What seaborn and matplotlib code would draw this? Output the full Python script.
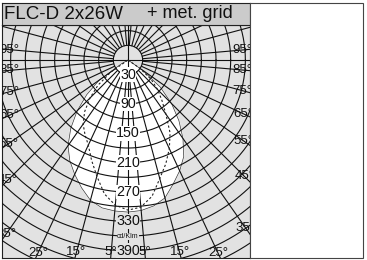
import numpy as np
import pandas as pd
import seaborn as sns
import matplotlib.pyplot as plt
from matplotlib.patches import Rectangle

# intensity in cd/klm, gamma measured from nadir
gamma = [0, 5, 10, 15, 20, 25, 30, 35, 40, 45, 50, 55, 60, 65]
solid_right = [311, 309, 303, 292, 270, 250, 228, 196, 162, 126, 86, 36, 0, 0]
solid_left = [311, 310, 307, 297, 278, 258, 238, 214, 182, 147, 110, 72, 16, 0]
dashed_right = [307, 302, 283, 251, 226, 200, 172, 135, 108, 86, 62, 30, 0, 0]
dashed_left = [307, 298, 278, 246, 218, 192, 176, 160, 138, 110, 80, 42, 0, 0]

ring_labels = [30, 90, 150, 210, 270, 330, 390]
angle_labels = [5, 15, 25, 35, 45, 55, 65, 75, 85, 95]
title_left = 'FLC-D 2x26W'
title_right = '+ met. grid'

W, H = 367, 260
PX = 0.489  # pixels per cd/klm
GRAY = '#e2e2e2'

sns.set_style('white')
plt.rcParams['font.family'] = ['Liberation Sans', 'DejaVu Sans']


def to_xy(g, r, side):
    g = np.radians(np.asarray(g, float))
    r = np.asarray(r, float)
    return side * r * np.sin(g), -r * np.cos(g)


fig = plt.figure(figsize=(W / 100, H / 100), dpi=100)
fig.patch.set_facecolor('white')

ax = fig.add_axes([2 / W, 2 / H, 248 / W, 233 / H])
x0, x1 = -126 / PX, 122 / PX
y0, y1 = -198 / PX, 35 / PX
ax.set_xlim(x0, x1)
ax.set_ylim(y0, y1)
ax.set_facecolor(GRAY)
ax.set_xticks([])
ax.set_yticks([])
for s in ax.spines.values():
    s.set_color('#222222')
    s.set_linewidth(0.8)

# white filled curve (C0 / C180)
xr, yr = to_xy(gamma, solid_right, 1)
xl, yl = to_xy(gamma, solid_left, -1)
px = np.concatenate([xr[::-1], xl])
py = np.concatenate([yr[::-1], yl])
ax.fill(px, py, color='white', zorder=1)
ax.plot(px, py, color='#333333', lw=0.5, zorder=2)

# grid: rings and rays
t = np.linspace(0, 2 * np.pi, 400)
for r in range(30, 600, 30):
    ax.plot(r * np.cos(t), r * np.sin(t), color='#111111', lw=0.8, zorder=3)
for a in range(5, 180, 10):
    for side in (-1, 1):
        xs, ys = to_xy([a, a], [30, 800], side)
        ax.plot(xs, ys, color='#111111', lw=0.8, zorder=3)
ax.axhline(0, color='#111111', lw=0.8, zorder=3)
ax.axvline(0, color='#111111', lw=0.8, zorder=3)

# dashed curve (C90 / C270)
dxr, dyr = to_xy(gamma, dashed_right, 1)
dxl, dyl = to_xy(gamma, dashed_left, -1)
dash = pd.DataFrame({'x': np.concatenate([dxr[::-1], dxl]),
                     'y': np.concatenate([dyr[::-1], dyl])})
sns.lineplot(data=dash, x='x', y='y', sort=False, estimator=None, ax=ax,
             color='#222222', lw=0.8, linestyle=(0, (2, 2)), zorder=4)
ax.set_xlabel('')
ax.set_ylabel('')

# radial value labels
for v in ring_labels:
    bg = 'white' if v < 311 else GRAY
    ax.text(0, -v, str(v), ha='center', va='center', fontsize=10.3,
            color='#111111', zorder=5,
            bbox=dict(facecolor=bg, edgecolor='none', pad=0.2))
ax.text(0, -361, 'cd/Klm', ha='center', va='center', fontsize=5,
        color='#111111', zorder=5,
        bbox=dict(facecolor=GRAY, edgecolor='none', pad=0.2))

# angle labels near the frame
for a in angle_labels:
    for side in (-1, 1):
        g = np.radians(a)
        dx, dy = side * np.sin(g), -np.cos(g)
        tx = (x1 if side > 0 else -x0) / abs(dx)
        ty = (-y0 / abs(dy)) if dy < 0 else (y1 / abs(dy) if dy > 0 else np.inf)
        inset = 16 if tx < ty else 12
        tt = min(tx, ty) - inset
        ax.text(tt * dx, tt * dy, f'{a}°', ha='center', va='center',
                fontsize=9.5, color='#111111', zorder=5, clip_on=True)

# title bar
ax_t = fig.add_axes([2 / W, 235 / H, 248 / W, 22 / H])
ax_t.set_facecolor('#cbcbcb')
ax_t.set_xticks([])
ax_t.set_yticks([])
for s in ax_t.spines.values():
    s.set_color('#222222')
    s.set_linewidth(0.8)
ax_t.text(2 / 248, 0.47, title_left, transform=ax_t.transAxes, ha='left',
          va='center', fontsize=13.5, color='#111111')
ax_t.text(145 / 248, 0.52, title_right, transform=ax_t.transAxes, ha='left',
          va='center', fontsize=13, color='#111111')

# empty right panel
fig.patches.append(Rectangle((250 / W, 2 / H), 113 / W, 255 / H,
                             transform=fig.transFigure, facecolor='white',
                             edgecolor='#444444', lw=0.8))

fig.savefig('out.png', dpi=100)
